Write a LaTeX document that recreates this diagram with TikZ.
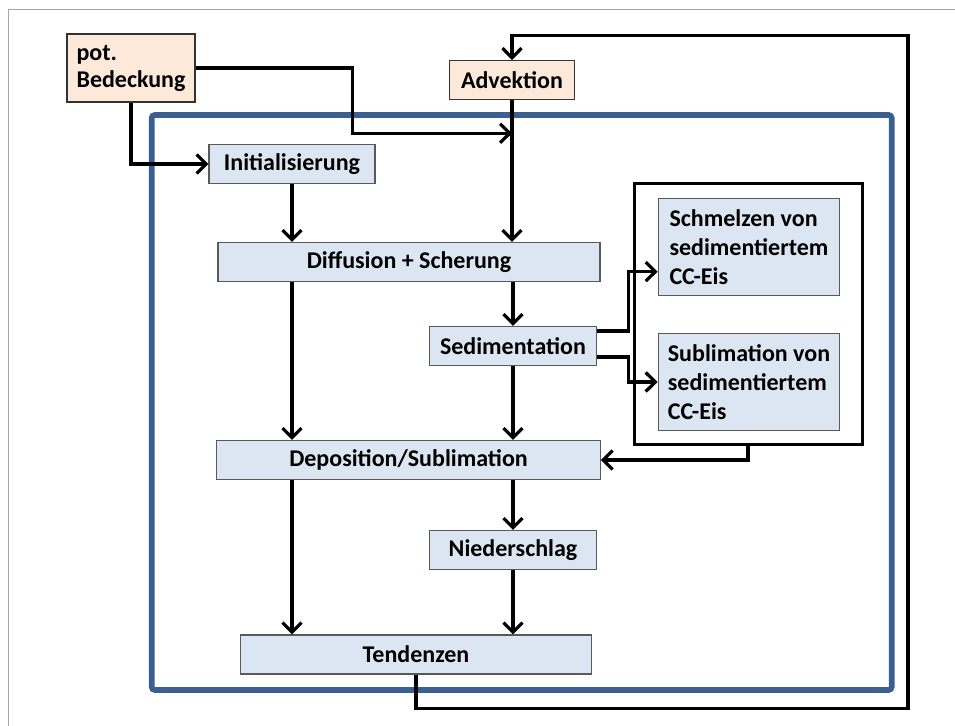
\documentclass[tikz,border=0pt]{standalone}
\usepackage{fontspec}
\setmainfont{Carlito}
\usepackage{tikz}
\usetikzlibrary{positioning,arrows.meta}
\definecolor{procblue}{HTML}{DCE6F2}
\definecolor{inpeach}{HTML}{FDE9D9}
\definecolor{frameblue}{HTML}{3B5F8E}
\tikzset{
  flowarrow/.style={-{Straight Barb[length=4.8pt, width=9.5pt]}, line width=1.6pt},
  procnode/.style={draw=black!65, fill=procblue, line width=0.6pt, minimum height=19.5pt, inner sep=0pt, align=center},
  inputnode/.style={draw=black!80, fill=inpeach, line width=0.6pt, inner sep=0pt, align=left},
  ccnode/.style={procnode, minimum width=90.8pt, minimum height=48.5pt, align=left, font=\bfseries\fontsize{12}{14.5}\selectfont},
  groupbox/.style={draw, line width=1.5pt, minimum width=114pt, minimum height=130.8pt, inner sep=0pt},
  outerframe/.style={draw=frameblue, line width=2.8pt, rounded corners=1.5pt}
}
\begin{document}
\begin{tikzpicture}[x=0.5pt, y=-0.5pt, every node/.style={font=\bfseries\fontsize{12}{14}\selectfont}]
  \useasboundingbox (0,0) rectangle (955,726);
  \draw[gray!70, line width=0.5pt] (8,726) -- (8,10) -- (955,10);
  \draw[outerframe] (151.7,115) rectangle (891.7,690);

  % Eingaenge
  \node[inputnode, minimum width=64pt, minimum height=34pt, font=\bfseries\fontsize{12}{13.5}\selectfont] (bedeckung) at (131,68) {pot.\\Bedeckung};
  \node[inputnode, minimum width=62.5pt, minimum height=19.3pt, align=center] (advektion) at (512,80) {Advektion};

  % Prozesse
  \node[procnode, minimum width=83pt] (init) at (292,164) {Initialisierung};
  \node[procnode, minimum width=191pt] (diffusion) at (409,262) {Diffusion + Scherung};
  \node[procnode, minimum width=83.3pt] (sediment) at (513,346) {Sedimentation};
  \node[procnode, minimum width=191.7pt] (deposition) at (408.5,460) {Deposition/Sublimation};
  \node[procnode, minimum width=83.3pt] (niederschlag) at (513,550) {Niederschlag};
  \node[procnode, minimum width=175.5pt] (tendenzen) at (416,654.5) {Tendenzen};

  % CC-Eis
  \node[groupbox] (ccgroup) at (748,314) {};
  \node[ccnode] (schmelzen) at (749,246.7) {Schmelzen von\\sedimentiertem\\CC-Eis};
  \node[ccnode] (sublimation) at (749,382) {Sublimation von\\sedimentiertem\\CC-Eis};

  \coordinate (knick) at (352.7,133.3);
  \coordinate (einlauf) at (512,133.3);
  \coordinate (rueckA) at (908,708.3);
  \coordinate (rueckB) at (908,35.7);

  \draw[flowarrow] (bedeckung.east) -| (knick) -- (einlauf);
  \draw[flowarrow] (bedeckung.south) |- (init.west);
  \draw[flowarrow] (tendenzen.south) |- (rueckA) -- (rueckB) -| (advektion.north);
  \draw[flowarrow] (advektion.south) -- (advektion.south |- diffusion.north);
  \draw[flowarrow] (init.south) -- (init.south |- diffusion.north);
  \draw[flowarrow] (sediment.north |- diffusion.south) -- (sediment.north);
  \draw[flowarrow] (init.south |- diffusion.south) -- (init.south |- deposition.north);
  \draw[flowarrow] (sediment.south) -- (sediment.south |- deposition.north);
  \draw[flowarrow] ([yshift=7.5pt]sediment.east) -- ++(31.6,0) |- ([yshift=-12.5pt]schmelzen.west);
  \draw[flowarrow] ([yshift=-5.5pt]sediment.east) -- ++(31.6,0) |- (sublimation.west);
  \draw[flowarrow] (ccgroup.south) |- (deposition.east);
  \draw[flowarrow] (init.south |- deposition.south) -- (init.south |- tendenzen.north);
  \draw[flowarrow] (niederschlag.north |- deposition.south) -- (niederschlag.north);
  \draw[flowarrow] (niederschlag.south) -- (niederschlag.south |- tendenzen.north);
\end{tikzpicture}
\end{document}
